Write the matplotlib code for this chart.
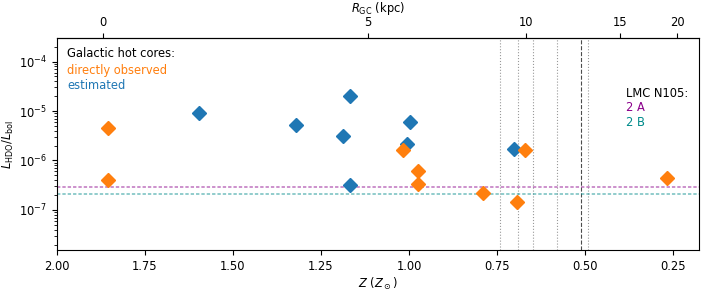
import numpy as np
import matplotlib
matplotlib.use("Agg")
import matplotlib.pyplot as plt

# Data
z_observed = [1.855, 1.855, 1.018, 0.974, 0.974, 0.791, 0.692, 0.670, 0.266]
r_observed = [4.5e-6, 4.0e-7, 1.6e-6, 6.1e-7, 3.3e-7, 2.25e-7, 1.43e-7, 1.63e-6, 4.5e-7]

z_estimated = [1.596, 1.321, 1.187, 1.168, 1.168, 0.997, 1.007, 0.701]
r_estimated = [9.0e-6, 5.3e-6, 3.1e-6, 2.0e-5, 3.2e-7, 5.9e-6, 2.2e-6, 1.69e-6]

lmc_2a = 2.9e-7
lmc_2b = 2.12e-7

vlines_gray = [0.740, 0.689, 0.649, 0.579, 0.490]
vline_black = 0.512

z_ticks = [2.00, 1.75, 1.50, 1.25, 1.00, 0.75, 0.50, 0.25]
r_ticks = [0, 5, 10, 15, 20]

# Metallicity gradient used for top axis
grad_a = 0.2717
grad_b = 0.0447

plt.rcParams['font.family'] = ['DejaVu Sans']
fs = 8.3

fig = plt.figure(figsize=(7.06, 2.92), dpi=100)
ax = fig.add_axes([57/706, 1-250/292, 642/706, (250-38.3)/292])

for v in vlines_gray:
    ax.axvline(v, color='gray', ls=':', lw=0.8, alpha=0.8, zorder=1)
ax.axvline(vline_black, color='black', ls='--', lw=0.8, alpha=0.7, zorder=1)

ax.axhline(lmc_2a, color='darkmagenta', lw=1.1, alpha=0.55, zorder=1, dashes=(2.2, 1.3))
ax.axhline(lmc_2b, color='darkcyan', lw=1.1, alpha=0.55, zorder=1, dashes=(2.2, 1.3))

ax.plot(z_estimated, r_estimated, 'D', color='#1f77b4', ms=7, ls='none', zorder=3)
ax.plot(z_observed, r_observed, 'D', color='#ff7f0e', ms=7, ls='none', zorder=4)

ax.set_yscale('log')
ax.set_xlim(2.0, 0.176)
ax.set_ylim(1.55e-8, 2.95e-4)
ax.set_xticks(z_ticks)
ax.set_xticklabels([f"{t:.2f}" for t in z_ticks])
ax.tick_params(labelsize=fs)
ax.set_xlabel(r'$Z$ ($Z_\odot$)', fontsize=fs, labelpad=2)
ax.set_ylabel(r'$L_\mathrm{HDO}/L_\mathrm{bol}$', fontsize=fs, labelpad=2)

def z2r(z):
    z = np.clip(np.asarray(z, dtype=float), 1e-3, None)
    return (grad_a - np.log10(z)) / grad_b

def r2z(r):
    return 10 ** (grad_a - grad_b * np.asarray(r, dtype=float))

sec = ax.secondary_xaxis('top', functions=(z2r, r2z))
sec.set_xticks(r_ticks)
sec.tick_params(labelsize=fs)
sec.set_xlabel(r'$R_\mathrm{GC}$ (kpc)', fontsize=fs, labelpad=2.5)

ax.text(0.0156, 0.930, 'Galactic hot cores:', transform=ax.transAxes, fontsize=fs, va='center', color='black')
ax.text(0.0156, 0.850, 'directly observed', transform=ax.transAxes, fontsize=fs, va='center', color='#ff7f0e')
ax.text(0.0156, 0.775, 'estimated', transform=ax.transAxes, fontsize=fs, va='center', color='#1f77b4')

ax.text(0.886, 0.740, 'LMC N105:', transform=ax.transAxes, fontsize=fs, va='center', color='black')
ax.text(0.886, 0.674, '2 A', transform=ax.transAxes, fontsize=fs, va='center', color='darkmagenta')
ax.text(0.886, 0.603, '2 B', transform=ax.transAxes, fontsize=fs, va='center', color='darkcyan')

fig.savefig('out.png', dpi=100)
